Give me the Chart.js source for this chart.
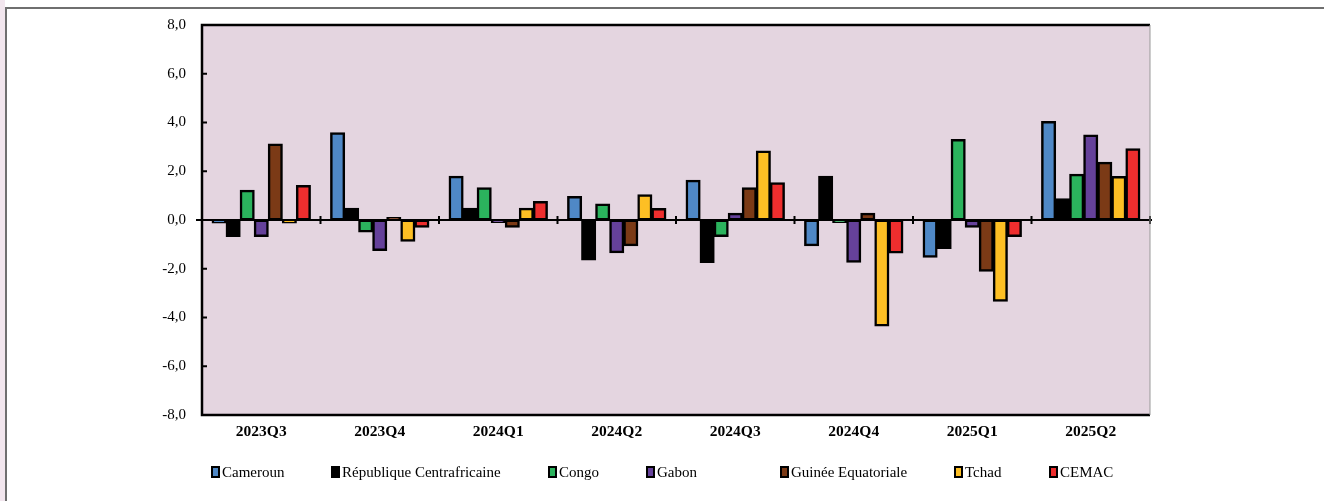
<!DOCTYPE html>
<html><head><meta charset="utf-8">
<script src="https://cdn.jsdelivr.net/npm/chart.js@4.4.1/dist/chart.umd.min.js"></script>
<style>
html,body{margin:0;padding:0;background:#fff;width:1324px;height:501px;overflow:hidden;position:relative;font-family:"Liberation Serif","Times New Roman",serif;}
#strip{position:absolute;left:0;top:0;width:5px;height:501px;background:#F2E6EE;}
#frame{position:absolute;left:5px;top:7px;width:1317px;height:500px;border-top:2px solid #6f6f6f;border-left:2px solid #6f6f6f;border-right:1px solid #9a9a9a;}
#wrap{position:absolute;left:0;top:0;width:1324px;height:501px;}
.lg{position:absolute;top:463px;font-size:15px;color:#000;white-space:nowrap;line-height:18px;}
.lg i{display:inline-block;width:5px;height:8px;border:2px solid #000;margin-right:2px;vertical-align:-1px;}
</style></head>
<body>
<div id="strip"></div>
<div id="frame"></div>
<div id="wrap"><canvas id="c" width="1324" height="501"></canvas></div>
<div id="legend"></div>
<script>
const categories = ["2023Q3","2023Q4","2024Q1","2024Q2","2024Q3","2024Q4","2025Q1","2025Q2"];
const seriesNames = ["Cameroun","République Centrafricaine","Congo","Gabon","Guinée Equatoriale","Tchad","CEMAC"];
const seriesColors = ["#4F88C6","#000000","#2BB35D","#65419A","#7B3A16","#FDBF24","#EE2E2E"];
const cameroun = [-0.12, 3.58, 1.8, 0.96, 1.63, -1.06, -1.53, 4.04];
const rca      = [-0.68, 0.48, 0.48, -1.64, -1.74, 1.8, -1.17, 0.87];
const congo    = [1.22, -0.49, 1.32, 0.66, -0.68, -0.1, 3.3, 1.88];
const gabon    = [-0.68, -1.25, -0.1, -1.34, 0.28, -1.73, -0.3, 3.49];
const guineeEq = [3.12, 0.1, -0.3, -1.06, 1.32, 0.28, -2.1, 2.37];
const tchad    = [-0.12, -0.87, 0.48, 1.04, 2.83, -4.35, -3.33, 1.78];
const cemac    = [1.42, -0.3, 0.76, 0.47, 1.53, -1.35, -0.68, 2.92];
const yTicks = [-8,-6,-4,-2,0,2,4,6,8];
const allSeries = [cameroun, rca, congo, gabon, guineeEq, tchad, cemac];
const legendX = [211, 331, 548, 646, 780, 954, 1049];

const bgPlugin = {
  id:'bg',
  beforeDraw(chart){
    const {ctx, chartArea:a} = chart;
    ctx.save();
    ctx.fillStyle = '#E4D5E0';
    ctx.fillRect(a.left, a.top, a.right-a.left, a.bottom-a.top);
    ctx.restore();
  },
  afterDatasetsDraw(chart){
    const {ctx, chartArea:a, scales} = chart;
    const y0 = scales.y.getPixelForValue(0);
    ctx.save();
    ctx.strokeStyle = '#000'; ctx.lineWidth = 2;
    ctx.beginPath(); ctx.moveTo(a.left-6, y0); ctx.lineTo(a.right+2, y0); ctx.stroke();
    const n = categories.length, w = (a.right-a.left)/n;
    for(let i=1;i<=n;i++){
      const x = a.left + i*w;
      ctx.beginPath(); ctx.moveTo(x, y0-4); ctx.lineTo(x, y0+4); ctx.stroke();
    }
    yTicks.forEach(v=>{
      const y = scales.y.getPixelForValue(v);
      ctx.beginPath(); ctx.moveTo(a.left, y); ctx.lineTo(a.left+5, y); ctx.stroke();
    });
    ctx.strokeStyle = '#000'; ctx.lineWidth = 2.5;
    ctx.beginPath();
    ctx.moveTo(a.right, a.top); ctx.lineTo(a.left, a.top); ctx.lineTo(a.left, a.bottom); ctx.lineTo(a.right, a.bottom);
    ctx.stroke();
    ctx.strokeStyle = '#999'; ctx.lineWidth = 1;
    ctx.beginPath(); ctx.moveTo(a.right, a.top); ctx.lineTo(a.right, a.bottom); ctx.stroke();
    ctx.restore();
  }
};

new Chart(document.getElementById('c'), {
  type:'bar',
  data:{
    labels: categories,
    datasets: seriesNames.map((name,i)=>({
      label:name, data:allSeries[i], backgroundColor:seriesColors[i],
      borderColor:'#000', borderWidth:2.5, borderSkipped:false, inflateAmount:0.5,
      categoryPercentage:0.83, barPercentage:1.0
    }))
  },
  options:{
    responsive:false, animation:false,
    layout:{padding:{left:0,right:174,top:24,bottom:56}},
    plugins:{legend:{display:false}, tooltip:{enabled:false}},
    scales:{
      x:{
        grid:{display:false, drawTicks:false}, border:{display:false},
        ticks:{color:'#000', padding:8, font:{family:'Liberation Serif', size:15.5, weight:'bold'}},
        afterFit(s){ s.height = 30; }
      },
      y:{
        min:-8, max:8,
        afterBuildTicks(s){ s.ticks = yTicks.map(v=>({value:v})); },
        grid:{display:false, drawTicks:false}, border:{display:false},
        ticks:{color:'#000', padding:16, font:{family:'Liberation Serif', size:15},
          callback:(v)=>Number(v).toFixed(1).replace('.',',')},
        afterFit(s){ s.width = 202; }
      }
    }
  },
  plugins:[bgPlugin]
});

const lg = document.getElementById('legend');
seriesNames.forEach((n,i)=>{
  const d = document.createElement('div');
  d.className='lg'; d.style.left = legendX[i]+'px';
  d.innerHTML = '<i style="background:'+seriesColors[i]+'"></i>' + n;
  lg.appendChild(d);
});
</script>
</body></html>
